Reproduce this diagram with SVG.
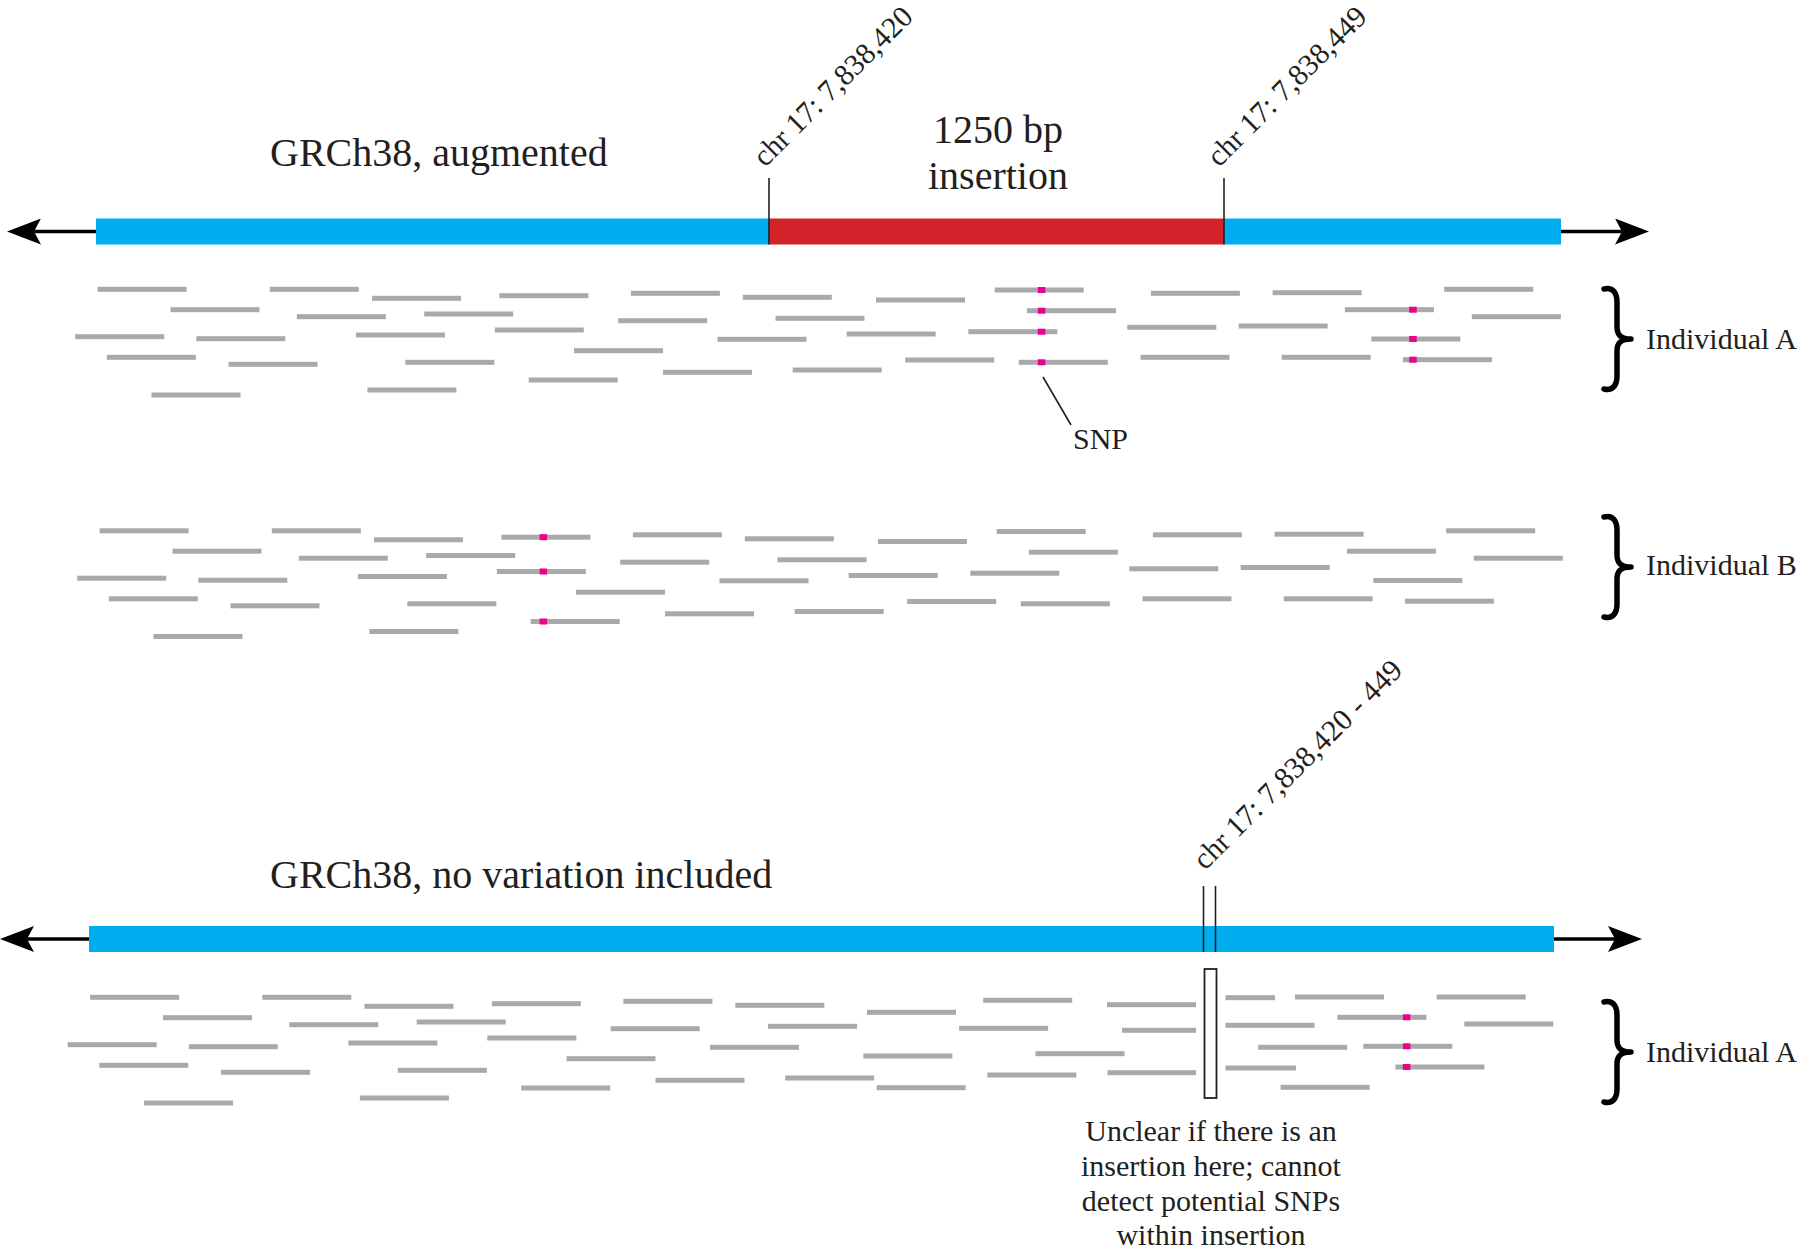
<svg xmlns="http://www.w3.org/2000/svg" xmlns:xlink="http://www.w3.org/1999/xlink" width="1800" height="1252" viewBox="0 0 1800 1252">
<style>
text{font-family:"Liberation Serif","Times New Roman",serif;fill:#231f20}
.title{font-size:40px}
.lab{font-size:30px}
.small{font-size:30px}
.read{fill:#a7a9ac}
.snp{fill:#ec008c}
.blue{fill:#00aeef}
.red{fill:#d2232a}
.tick{stroke:#231f20;stroke-width:1.6;fill:none}
.axis{stroke:#000;stroke-width:3.5;fill:none}
.brace{stroke:#000;stroke-width:5.5;fill:none;stroke-linecap:round;stroke-linejoin:round}
</style>
<defs>
<marker id="ah" viewBox="0 0 34 26" refX="24" refY="13" markerWidth="34" markerHeight="26" markerUnits="userSpaceOnUse" orient="auto">
<path d="M0,0 L34,13 L0,26 L7,13 Z" fill="#000"/>
</marker>
<path id="brace" d="M0,2 C8,0 13,5 13,15 L13,40 C13,48 17,52 27,52 C17,52 13,56 13,64 L13,89 C13,99 8,104 0,102"/>
</defs>

<g id="connectors">
<line class="axis" x1="96" y1="231.5" x2="17" y2="231.5" marker-end="url(#ah)"/>
<line class="axis" x1="1561" y1="231.5" x2="1639" y2="231.5" marker-end="url(#ah)"/>
<line class="axis" x1="89" y1="939" x2="10" y2="939" marker-end="url(#ah)"/>
<line class="axis" x1="1554" y1="939" x2="1632" y2="939" marker-end="url(#ah)"/>
<line id="snp-pointer" class="tick" x1="1043" y1="377" x2="1071" y2="425"/>
</g>

<g id="ref-augmented">
<rect class="blue" x="96" y="218.5" width="673" height="26"/>
<rect class="red" x="769" y="218.5" width="455" height="26"/>
<rect class="blue" x="1224" y="218.5" width="337" height="26"/>
<line class="tick" x1="769" y1="178" x2="769" y2="244.5"/>
<line class="tick" x1="1224" y1="178" x2="1224" y2="244.5"/>
<text class="title" x="270" y="166">GRCh38, augmented</text>
<text class="title" x="998" y="143" text-anchor="middle">1250 bp</text>
<text class="title" x="998" y="189" text-anchor="middle">insertion</text>
<text class="lab" transform="translate(765,168) rotate(-45)">chr 17: 7,838,420</text>
<text class="lab" transform="translate(1219,168) rotate(-45)">chr 17: 7,838,449</text>
</g>

<g id="reads-A">
<rect class="read" x="97.6" y="286.8" width="89" height="5"/>
<rect class="read" x="269.8" y="286.8" width="89" height="5"/>
<rect class="read" x="372" y="295.8" width="89" height="5"/>
<rect class="read" x="499.4" y="293.2" width="89" height="5"/>
<rect class="read" x="630.9" y="290.8" width="89" height="5"/>
<rect class="read" x="742.8" y="294.8" width="89" height="5"/>
<rect class="read" x="876" y="297.5" width="89" height="5"/>
<rect class="read" x="170.5" y="307.2" width="89" height="5"/>
<rect class="read" x="296.8" y="314.2" width="89" height="5"/>
<rect class="read" x="424.2" y="311.5" width="89" height="5"/>
<rect class="read" x="618.2" y="318.2" width="89" height="5"/>
<rect class="read" x="775.5" y="315.8" width="89" height="5"/>
<rect class="read" x="75.2" y="334.2" width="89" height="5"/>
<rect class="read" x="196.3" y="336.2" width="89" height="5"/>
<rect class="read" x="355.9" y="332.5" width="89" height="5"/>
<rect class="read" x="494.8" y="327.5" width="89" height="5"/>
<rect class="read" x="717.5" y="336.8" width="89" height="5"/>
<rect class="read" x="846.7" y="331.5" width="89" height="5"/>
<rect class="read" x="106.8" y="354.8" width="89" height="5"/>
<rect class="read" x="228.5" y="361.8" width="89" height="5"/>
<rect class="read" x="405.3" y="359.8" width="89" height="5"/>
<rect class="read" x="574" y="348.2" width="89" height="5"/>
<rect class="read" x="663" y="369.8" width="89" height="5"/>
<rect class="read" x="792.7" y="367.5" width="89" height="5"/>
<rect class="read" x="528.7" y="377.5" width="89" height="5"/>
<rect class="read" x="151.5" y="392.5" width="89" height="5"/>
<rect class="read" x="367.4" y="387.5" width="89" height="5"/>
<rect class="read" x="994.7" y="287.5" width="89" height="5"/>
<rect class="read" x="1150.9" y="290.8" width="89" height="5"/>
<rect class="read" x="1272.6" y="290.2" width="89" height="5"/>
<rect class="read" x="1444.2" y="286.8" width="89" height="5"/>
<rect class="read" x="1026.9" y="308.2" width="89" height="5"/>
<rect class="read" x="1344.9" y="307.2" width="89" height="5"/>
<rect class="read" x="1471.8" y="314.2" width="89" height="5"/>
<rect class="read" x="968.3" y="329.2" width="89" height="5"/>
<rect class="read" x="1127.3" y="324.8" width="89" height="5"/>
<rect class="read" x="1238.7" y="323.5" width="89" height="5"/>
<rect class="read" x="1371.3" y="336.5" width="89" height="5"/>
<rect class="read" x="905.2" y="357.5" width="89" height="5"/>
<rect class="read" x="1018.8" y="359.8" width="89" height="5"/>
<rect class="read" x="1140.5" y="354.8" width="89" height="5"/>
<rect class="read" x="1281.7" y="354.8" width="89" height="5"/>
<rect class="read" x="1402.9" y="357.2" width="89" height="5"/>
<rect class="snp" x="1037.8" y="287" width="7.5" height="6"/>
<rect class="snp" x="1037.8" y="307.7" width="7.5" height="6"/>
<rect class="snp" x="1037.8" y="328.7" width="7.5" height="6"/>
<rect class="snp" x="1037.8" y="359.3" width="7.5" height="6"/>
<rect class="snp" x="1409.2" y="306.7" width="7.5" height="6"/>
<rect class="snp" x="1409.2" y="336" width="7.5" height="6"/>
<rect class="snp" x="1409.2" y="356.7" width="7.5" height="6"/>
<text class="small" x="1073" y="449">SNP</text>
<use href="#brace" class="brace" transform="translate(1604,287)"/>
<text class="small" x="1646" y="349">Individual A</text>
</g>

<g id="reads-B">
<g transform="translate(2,241.5)">
<rect class="read" x="97.6" y="286.8" width="89" height="5"/>
<rect class="read" x="269.8" y="286.8" width="89" height="5"/>
<rect class="read" x="372" y="295.8" width="89" height="5"/>
<rect class="read" x="499.4" y="293.2" width="89" height="5"/>
<rect class="read" x="630.9" y="290.8" width="89" height="5"/>
<rect class="read" x="742.8" y="294.8" width="89" height="5"/>
<rect class="read" x="876" y="297.5" width="89" height="5"/>
<rect class="read" x="170.5" y="307.2" width="89" height="5"/>
<rect class="read" x="296.8" y="314.2" width="89" height="5"/>
<rect class="read" x="424.2" y="311.5" width="89" height="5"/>
<rect class="read" x="618.2" y="318.2" width="89" height="5"/>
<rect class="read" x="775.5" y="315.8" width="89" height="5"/>
<rect class="read" x="75.2" y="334.2" width="89" height="5"/>
<rect class="read" x="196.3" y="336.2" width="89" height="5"/>
<rect class="read" x="355.9" y="332.5" width="89" height="5"/>
<rect class="read" x="494.8" y="327.5" width="89" height="5"/>
<rect class="read" x="717.5" y="336.8" width="89" height="5"/>
<rect class="read" x="846.7" y="331.5" width="89" height="5"/>
<rect class="read" x="106.8" y="354.8" width="89" height="5"/>
<rect class="read" x="228.5" y="361.8" width="89" height="5"/>
<rect class="read" x="405.3" y="359.8" width="89" height="5"/>
<rect class="read" x="574" y="348.2" width="89" height="5"/>
<rect class="read" x="663" y="369.8" width="89" height="5"/>
<rect class="read" x="792.7" y="367.5" width="89" height="5"/>
<rect class="read" x="528.7" y="377.5" width="89" height="5"/>
<rect class="read" x="151.5" y="392.5" width="89" height="5"/>
<rect class="read" x="367.4" y="387.5" width="89" height="5"/>
<rect class="read" x="994.7" y="287.5" width="89" height="5"/>
<rect class="read" x="1150.9" y="290.8" width="89" height="5"/>
<rect class="read" x="1272.6" y="290.2" width="89" height="5"/>
<rect class="read" x="1444.2" y="286.8" width="89" height="5"/>
<rect class="read" x="1026.9" y="308.2" width="89" height="5"/>
<rect class="read" x="1344.9" y="307.2" width="89" height="5"/>
<rect class="read" x="1471.8" y="314.2" width="89" height="5"/>
<rect class="read" x="968.3" y="329.2" width="89" height="5"/>
<rect class="read" x="1127.3" y="324.8" width="89" height="5"/>
<rect class="read" x="1238.7" y="323.5" width="89" height="5"/>
<rect class="read" x="1371.3" y="336.5" width="89" height="5"/>
<rect class="read" x="905.2" y="357.5" width="89" height="5"/>
<rect class="read" x="1018.8" y="359.8" width="89" height="5"/>
<rect class="read" x="1140.5" y="354.8" width="89" height="5"/>
<rect class="read" x="1281.7" y="354.8" width="89" height="5"/>
<rect class="read" x="1402.9" y="357.2" width="89" height="5"/>
<rect class="snp" x="537.6" y="292.7" width="7.5" height="6"/>
<rect class="snp" x="537.6" y="327" width="7.5" height="6"/>
<rect class="snp" x="537.6" y="377" width="7.5" height="6"/>
</g>
<use href="#brace" class="brace" transform="translate(1604,515)"/>
<text class="small" x="1646" y="575">Individual B</text>
</g>

<g id="ref-plain">
<rect class="blue" x="89" y="926" width="1465" height="26"/>
<line class="tick" x1="1203.5" y1="886" x2="1203.5" y2="952"/>
<line class="tick" x1="1215.5" y1="886" x2="1215.5" y2="952"/>
<text class="title" x="270" y="888">GRCh38, no variation included</text>
<text class="lab" transform="translate(1205,871) rotate(-45)">chr 17: 7,838,420 - 449</text>
</g>

<g id="reads-A2">
<rect class="read" x="90.1" y="994.8" width="89" height="5"/>
<rect class="read" x="262.3" y="994.8" width="89" height="5"/>
<rect class="read" x="364.5" y="1003.8" width="89" height="5"/>
<rect class="read" x="491.9" y="1001.2" width="89" height="5"/>
<rect class="read" x="623.4" y="998.8" width="89" height="5"/>
<rect class="read" x="735.3" y="1002.8" width="89" height="5"/>
<rect class="read" x="867" y="1009.8" width="89" height="5"/>
<rect class="read" x="163" y="1015.2" width="89" height="5"/>
<rect class="read" x="289.3" y="1022.2" width="89" height="5"/>
<rect class="read" x="416.7" y="1019.5" width="89" height="5"/>
<rect class="read" x="610.7" y="1026.2" width="89" height="5"/>
<rect class="read" x="768" y="1023.8" width="89" height="5"/>
<rect class="read" x="67.7" y="1042.2" width="89" height="5"/>
<rect class="read" x="188.8" y="1044.2" width="89" height="5"/>
<rect class="read" x="348.4" y="1040.5" width="89" height="5"/>
<rect class="read" x="487.3" y="1035.5" width="89" height="5"/>
<rect class="read" x="710" y="1044.8" width="89" height="5"/>
<rect class="read" x="863.4" y="1053.5" width="89" height="5"/>
<rect class="read" x="99.3" y="1062.8" width="89" height="5"/>
<rect class="read" x="221" y="1069.8" width="89" height="5"/>
<rect class="read" x="397.8" y="1067.8" width="89" height="5"/>
<rect class="read" x="566.5" y="1056.2" width="89" height="5"/>
<rect class="read" x="655.5" y="1077.8" width="89" height="5"/>
<rect class="read" x="785.2" y="1075.5" width="89" height="5"/>
<rect class="read" x="521.2" y="1085.5" width="89" height="5"/>
<rect class="read" x="144" y="1100.5" width="89" height="5"/>
<rect class="read" x="359.9" y="1095.5" width="89" height="5"/>
<rect class="read" x="876.6" y="1085.2" width="89" height="5"/>
<rect class="read" x="983.2" y="997.8" width="89" height="5"/>
<rect class="read" x="1107" y="1002.2" width="89" height="5"/>
<rect class="read" x="959.1" y="1025.8" width="89" height="5"/>
<rect class="read" x="1122" y="1027.8" width="74" height="5"/>
<rect class="read" x="1035.5" y="1051.2" width="89" height="5"/>
<rect class="read" x="987.3" y="1072.5" width="89" height="5"/>
<rect class="read" x="1107.5" y="1070.2" width="88.5" height="5"/>
<rect class="read" x="1225.5" y="995.2" width="49.5" height="5"/>
<rect class="read" x="1295" y="994.5" width="89" height="5"/>
<rect class="read" x="1436.7" y="994.5" width="89" height="5"/>
<rect class="read" x="1337.4" y="1014.8" width="89" height="5"/>
<rect class="read" x="1464.3" y="1021.5" width="89" height="5"/>
<rect class="read" x="1225.5" y="1022.8" width="89" height="5"/>
<rect class="read" x="1258.2" y="1044.8" width="89" height="5"/>
<rect class="read" x="1363.3" y="1043.8" width="89" height="5"/>
<rect class="read" x="1225.5" y="1065.5" width="70.5" height="5"/>
<rect class="read" x="1280.6" y="1084.8" width="89" height="5"/>
<rect class="read" x="1395.4" y="1064.5" width="89" height="5"/>
<rect class="snp" x="1402.9" y="1014.3" width="7.5" height="6"/>
<rect class="snp" x="1402.9" y="1043.3" width="7.5" height="6"/>
<rect class="snp" x="1402.9" y="1064" width="7.5" height="6"/>
<rect id="gap-box" x="1204.5" y="969" width="12" height="129" fill="#fff" stroke="#231f20" stroke-width="1.8"/>
<use href="#brace" class="brace" transform="translate(1604,1000)"/>
<text class="small" x="1646" y="1062">Individual A</text>
</g>

<g id="note">
<text class="small" x="1211" y="1141" text-anchor="middle">Unclear if there is an</text>
<text class="small" x="1211" y="1176" text-anchor="middle">insertion here; cannot</text>
<text class="small" x="1211" y="1211" text-anchor="middle">detect potential SNPs</text>
<text class="small" x="1211" y="1245" text-anchor="middle">within insertion</text>
</g>
</svg>
